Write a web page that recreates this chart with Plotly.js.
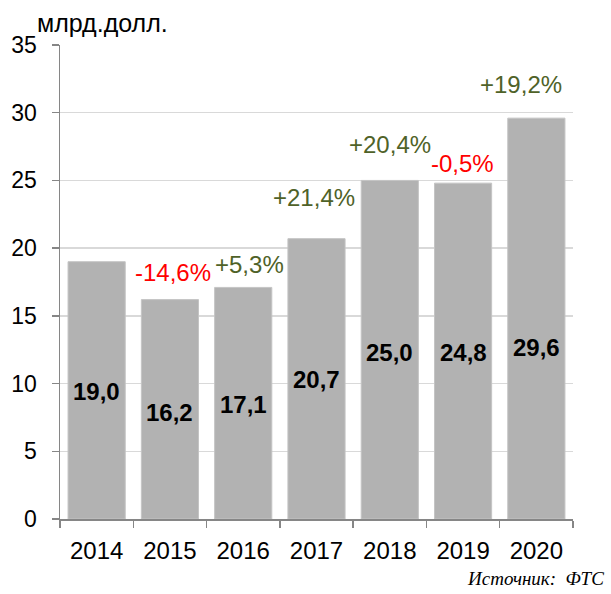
<!DOCTYPE html>
<html>
<head>
<meta charset="utf-8">
<script src="https://cdn.plot.ly/plotly-3.0.1.min.js"></script>
<style>html,body{margin:0;padding:0;background:#fff}#chart{width:611px;height:594px}</style>
</head>
<body>
<div id="chart"></div>
<script>
const years = [2014, 2015, 2016, 2017, 2018, 2019, 2020];
const yearLabels = ['2014','2015','2016','2017','2018','2019','2020'];
const values = [19.0, 16.2, 17.1, 20.7, 25.0, 24.8, 29.6];
const valueLabels = ['19,0','16,2','17,1','20,7','25,0','24,8','29,6'];
const changeLabels = ['', '-14,6%', '+5,3%', '+21,4%', '+20,4%', '-0,5%', '+19,2%'];
const changeSign = [0, -1, 1, 1, 1, -1, 1];
// label placement (data units / pixel shifts)
const valueLabelY = [9.38, 7.9, 8.42, 10.27, 12.33, 12.33, 12.7];
const changeLabelY = [0, 18.17, 18.76, 23.71, 27.62, 26.22, 32.05];
const changeShift = [0, 3, 6, -3, 0, -1, -15];

const FONT = 'Liberation Sans, Arial, sans-serif';
const L = 60, R = 38, T = 45, B = 75, W = 611, H = 594;
const pw = W - L - R, ph = H - T - B;

const annotations = [];
years.forEach((yr, i) => {
  annotations.push({
    x: yr, y: valueLabelY[i], xref: 'x', yref: 'y',
    text: '<b>' + valueLabels[i] + '</b>', showarrow: false,
    font: {family: FONT, size: 24, color: '#000000'}
  });
  if (changeLabels[i]) {
    annotations.push({
      x: yr, y: changeLabelY[i], xref: 'x', yref: 'y', xshift: changeShift[i],
      text: changeLabels[i], showarrow: false,
      font: {family: FONT, size: 24, color: changeSign[i] < 0 ? '#ff0000' : '#4f6228'}
    });
  }
});
annotations.push({
  x: (35 - L) / pw, y: (H - B - 23) / ph, xref: 'paper', yref: 'paper',
  xanchor: 'left', yanchor: 'middle',
  text: 'млрд.долл.', showarrow: false,
  font: {family: FONT, size: 25, color: '#000000'}
});
annotations.push({
  x: (606 - L) / pw, y: (H - B - 578) / ph, xref: 'paper', yref: 'paper',
  xanchor: 'right', yanchor: 'middle',
  text: '<i>Источник:\u00a0\u00a0ФТС</i>', showarrow: false,
  font: {family: 'Liberation Serif, Times New Roman, serif', size: 19, color: '#000000'}
});

const trace = {
  type: 'bar', x: years, y: values,
  marker: {color: '#b2b2b2', line: {color: '#c4c4c4', width: 1}},
  width: 0.78, hoverinfo: 'none'
};
const layout = {
  width: W, height: H,
  margin: {l: L, r: R, t: T, b: B, pad: 0},
  paper_bgcolor: '#ffffff', plot_bgcolor: '#ffffff',
  showlegend: false,
  xaxis: {
    type: 'linear', range: [2013.5, 2020.5], fixedrange: true,
    tickmode: 'array', tickvals: years, ticktext: yearLabels,
    showline: true, linecolor: '#868686', linewidth: 1.5,
    ticks: 'outside', ticklen: 0, ticklabelstandoff: 10,
    minor: {tick0: 2013.5, dtick: 1, ticks: 'outside', ticklen: 7, tickcolor: '#868686', tickwidth: 1.5, showgrid: false},
    tickfont: {family: FONT, size: 24, color: '#000000'}, showgrid: false, zeroline: false
  },
  yaxis: {
    range: [0, 35], dtick: 5, showline: true, linecolor: '#868686', linewidth: 1.5,
    ticks: 'outside', ticklen: 7, tickcolor: '#868686', tickwidth: 1.5, ticklabelstandoff: 10,
    gridcolor: '#d9d9d9', gridwidth: 1.5, zeroline: false,
    tickfont: {family: FONT, size: 23, color: '#000000'}
  },
  annotations: annotations
};
Plotly.newPlot('chart', [trace], layout, {displayModeBar: false, staticPlot: true});
</script>
</body>
</html>
